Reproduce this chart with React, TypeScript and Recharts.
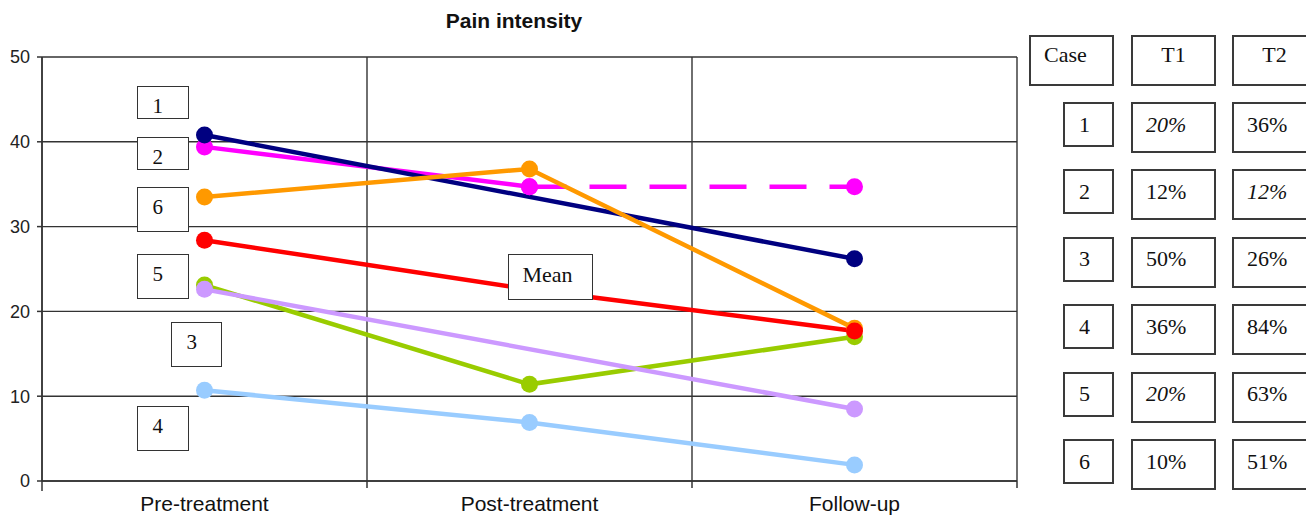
import React from 'react';
import { LineChart, Line, XAxis, YAxis, CartesianGrid } from 'recharts';

// ---------- data ----------
const stages = ['Pre-treatment', 'Post-treatment', 'Follow-up'];
const navySeries = [40.8, null, 26.2];
const magentaSolid = [39.4, 34.7, null];
const magentaDashed = [null, 34.7, 34.7];
const orangeSeries = [33.5, 36.8, 18.0];
const redSeries = [28.4, 22.6, 17.7];
const greenSeries = [23.1, 11.4, 17.0];
const lavenderSeries = [22.6, null, 8.5];
const lightBlueSeries = [10.7, 6.9, 1.9];
const yTicks = [0, 10, 20, 30, 40, 50];

const chartLabels = ['1', '2', '6', '5', '3', '4', 'Mean'];

const tableHeaders = ['Case', 'T1', 'T2'];
const caseIds = ['1', '2', '3', '4', '5', '6'];
const t1Values = ['20%', '12%', '50%', '36%', '20%', '10%'];
const t2Values = ['36%', '12%', '26%', '84%', '63%', '51%'];
const t1Italic = [true, false, false, false, true, false];
const t2Italic = [false, true, false, false, false, false];

const data = stages.map((stage, i) => ({
  stage,
  navy: navySeries[i],
  magenta: magentaSolid[i],
  magentaDash: magentaDashed[i],
  orange: orangeSeries[i],
  red: redSeries[i],
  green: greenSeries[i],
  lavender: lavenderSeries[i],
  lightBlue: lightBlueSeries[i],
}));

// ---------- layout ----------
const labelBoxes = [
  { left: 137, top: 86, width: 52, height: 33 },
  { left: 137, top: 137, width: 52, height: 33 },
  { left: 137, top: 187, width: 52, height: 45 },
  { left: 137, top: 254, width: 52, height: 45 },
  { left: 171, top: 322, width: 51, height: 45 },
  { left: 137, top: 406, width: 52, height: 45 },
  { left: 508, top: 254, width: 85, height: 46 },
];

const SERIF = '"Liberation Serif", "Times New Roman", serif';
const SANS = '"Liberation Sans", Arial, sans-serif';
const AXIS_COLOR = '#333';

const seriesOrder = [
  { key: 'lightBlue', color: '#99CCFF' },
  { key: 'green', color: '#99CC00' },
  { key: 'lavender', color: '#CC99FF' },
  { key: 'magenta', color: '#FF00FF' },
  { key: 'magentaDash', color: '#FF00FF', dash: '37 23' },
  { key: 'navy', color: '#000080' },
  { key: 'orange', color: '#FF9900' },
  { key: 'red', color: '#FF0000' },
];

const boxBase: React.CSSProperties = {
  position: 'absolute',
  boxSizing: 'border-box',
  border: '2px solid #3a3a3a',
  background: '#fff',
  fontFamily: SERIF,
  fontSize: 22,
  lineHeight: '22px',
  color: '#111',
  whiteSpace: 'nowrap',
};

const StageTick = (props: any) => {
  const { x, y, payload, index } = props;
  const half = payload && typeof payload.offset === 'number' ? payload.offset : 0;
  return (
    <g>
      {half && index === 0 ? (
        <line x1={x - half} x2={x - half} y1={y} y2={y + 10} stroke={AXIS_COLOR} strokeWidth={1.5} />
      ) : null}
      {half ? (
        <line x1={x + half} x2={x + half} y1={y} y2={y + 7} stroke={AXIS_COLOR} strokeWidth={1.5} />
      ) : null}
      <text x={x} y={y + 15} dy="0.71em" textAnchor="middle" fill="#111" fontSize={21} fontFamily={SANS}>
        {payload.value}
      </text>
    </g>
  );
};

const boundaryGenerator = ({ offset }: any) =>
  Array.from({ length: stages.length + 1 }, (_, k) => offset.left + (offset.width * k) / stages.length);

export default function App() {
  const rowTop = (i: number) => 102 + i * 67.4;
  return (
    <div style={{ position: 'absolute', left: 0, top: 0, width: 1306, height: 515, background: '#fff', overflow: 'hidden' }}>
      <LineChart width={1306} height={515} data={data} margin={{ top: 57, right: 289, bottom: 0, left: 0 }}>
        <XAxis
          dataKey="stage"
          scale="band"
          height={34}
          interval={0}
          tickLine={false}
          tickSize={0}
          tickMargin={0}
          axisLine={{ stroke: AXIS_COLOR, strokeWidth: 1.5 }}
          tick={<StageTick />}
        />
        <YAxis
          domain={[0, 50]}
          ticks={yTicks}
          interval={0}
          allowDataOverflow
          width={42}
          tickSize={5}
          tickMargin={7}
          axisLine={{ stroke: AXIS_COLOR, strokeWidth: 1.5 }}
          tickLine={{ stroke: AXIS_COLOR, strokeWidth: 1.5 }}
          tick={{ fill: '#222', fontSize: 18, fontFamily: SANS }}
        />
        <CartesianGrid stroke={AXIS_COLOR} strokeWidth={1.4} verticalCoordinatesGenerator={boundaryGenerator} />
        {seriesOrder.map((s) => (
          <Line
            key={s.key}
            dataKey={s.key}
            stroke={s.color}
            strokeWidth={4.5}
            strokeDasharray={s.dash}
            connectNulls
            dot={{ r: 8.5, fill: s.color, stroke: s.color, strokeWidth: 0 }}
            activeDot={false}
            isAnimationActive={false}
          />
        ))}
      </LineChart>

      <div
        style={{
          position: 'absolute', left: 0, top: 10, width: 1028, textAlign: 'center',
          fontFamily: SANS, fontWeight: 'bold', fontSize: 21, lineHeight: '21px', color: '#111',
        }}
      >
        Pain intensity
      </div>

      {chartLabels.map((t, i) => {
        const b = labelBoxes[i];
        const isMean = t === 'Mean';
        return (
          <div
            key={'lab' + i}
            style={{
              ...boxBase,
              border: '1.5px solid #333',
              fontSize: isMean ? 22 : 21,
              lineHeight: isMean ? '22px' : '21px',
              left: b.left, top: b.top, width: b.width, height: b.height,
              paddingTop: 9,
              paddingLeft: isMean ? 13.5 : 14.5,
            }}
          >
            {t}
          </div>
        );
      })}

      {tableHeaders.map((h, i) => {
        const lefts = [1029, 1131, 1232];
        return (
          <div
            key={'h' + i}
            style={{
              ...boxBase,
              left: lefts[i], top: 35, width: 85, height: 51,
              paddingTop: 6.5,
              paddingLeft: i === 0 ? 13 : 0,
              textAlign: i === 0 ? 'left' : 'center',
            }}
          >
            {h}
          </div>
        );
      })}

      {caseIds.map((c, i) => (
        <React.Fragment key={'r' + i}>
          <div style={{ ...boxBase, left: 1063, top: rowTop(i), width: 51, height: 45, paddingTop: 9.5, paddingLeft: 14 }}>
            {c}
          </div>
          <div
            style={{
              ...boxBase, left: 1131, top: rowTop(i), width: 85, height: 51, paddingTop: 9.5, paddingLeft: 13,
              fontStyle: t1Italic[i] ? 'italic' : 'normal',
            }}
          >
            {t1Values[i]}
          </div>
          <div
            style={{
              ...boxBase, left: 1232, top: rowTop(i), width: 85, height: 51, paddingTop: 9.5, paddingLeft: 13,
              fontStyle: t2Italic[i] ? 'italic' : 'normal',
            }}
          >
            {t2Values[i]}
          </div>
        </React.Fragment>
      ))}
    </div>
  );
}
